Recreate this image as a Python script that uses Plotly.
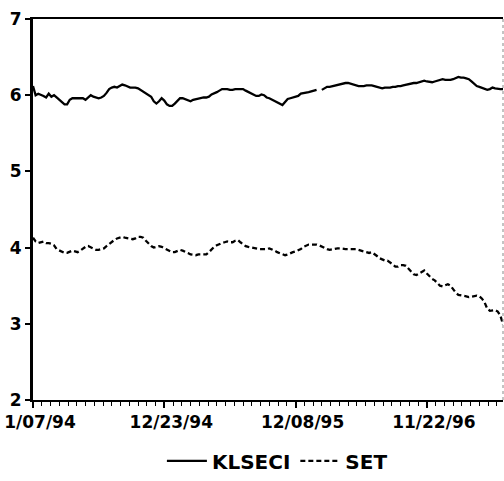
import plotly.graph_objects as go
import pandas as pd

start_date = "1994-01-07"
n_obs = 180

klseci = [
    6.12, 6.00, 6.02, 6.01, 5.99, 5.97, 6.02, 5.98, 6.00, 5.97,
    5.94, 5.90, 5.88, 5.88, 5.94, 5.96, 5.96, 5.96, 5.96, 5.96,
    5.94, 5.97, 6.00, 5.98, 5.97, 5.96, 5.97, 5.99, 6.03, 6.08,
    6.10, 6.11, 6.10, 6.12, 6.14, 6.13, 6.11, 6.10, 6.10, 6.10,
    6.09, 6.07, 6.04, 6.02, 6.00, 5.98, 5.92, 5.89, 5.92, 5.96,
    5.93, 5.88, 5.86, 5.86, 5.89, 5.93, 5.96, 5.96, 5.95, 5.93,
    5.92, 5.94, 5.95, 5.96, 5.97, 5.97, 5.97, 5.98, 6.01, 6.02,
    6.04, 6.06, 6.08, 6.08, 6.08, 6.07, 6.07, 6.08, 6.08, 6.08,
    6.08, 6.06, 6.04, 6.02, 6.00, 5.99, 5.99, 6.01, 6.00, 5.97,
    5.96, 5.94, 5.92, 5.90, 5.89, 5.87, 5.91, 5.95, 5.96, 5.97,
    5.98, 5.99, 6.02, 6.03, 6.04, 6.04, 6.05, 6.06, 6.07, None,
    6.07, 6.09, 6.11, 6.11, 6.12, 6.12, 6.14, 6.15, 6.15, 6.16,
    6.16, 6.15, 6.14, 6.12, 6.12, 6.12, 6.12, 6.13, 6.13, 6.13,
    6.12, 6.11, 6.09, 6.09, 6.10, 6.10, 6.10, 6.11, 6.11, 6.12,
    6.12, 6.13, 6.14, 6.14, 6.15, 6.16, 6.16, 6.17, 6.18, 6.19,
    6.18, 6.17, 6.17, 6.18, 6.19, 6.21, 6.21, 6.20, 6.20, 6.20,
    6.21, 6.22, 6.24, 6.23, 6.23, 6.22, 6.21, 6.18, 6.15, 6.12,
    6.11, 6.10, 6.09, 6.07, 6.08, 6.10, 6.09, 6.08, 6.08, 6.08,
]

set_index = [
    4.13, 4.08, 4.06, 4.07, 4.08, 4.06, 4.06, 4.05, 4.03, 3.98,
    3.96, 3.94, 3.93, 3.93, 3.95, 3.96, 3.95, 3.94, 3.96, 3.99,
    4.01, 4.02, 4.00, 3.99, 3.97, 3.97, 3.98, 3.99, 4.02, 4.05,
    4.08, 4.10, 4.12, 4.13, 4.14, 4.13, 4.12, 4.11, 4.11, 4.12,
    4.14, 4.14, 4.13, 4.09, 4.05, 4.02, 4.00, 4.01, 4.02, 4.01,
    3.99, 3.97, 3.95, 3.94, 3.94, 3.96, 3.97, 3.96, 3.95, 3.93,
    3.91, 3.90, 3.90, 3.91, 3.91, 3.91, 3.91, 3.94, 3.98, 4.01,
    4.03, 4.05, 4.06, 4.07, 4.08, 4.07, 4.07, 4.09, 4.10, 4.07,
    4.04, 4.02, 4.01, 4.00, 3.99, 3.98, 3.98, 3.98, 3.98, 3.98,
    3.99, 3.98, 3.96, 3.94, 3.93, 3.91, 3.90, 3.91, 3.93, 3.94,
    3.95, 3.96, 3.98, 4.01, 4.03, 4.04, 4.04, 4.04, 4.04, 4.03,
    4.01, 3.99, 3.98, 3.97, 3.98, 3.99, 3.99, 3.99, 3.98, 3.98,
    3.98, 3.98, 3.98, 3.98, 3.97, 3.96, 3.95, 3.93, 3.93, 3.94,
    3.92, 3.89, 3.86, 3.84, 3.83, 3.83, 3.81, 3.78, 3.75, 3.75,
    3.77, 3.77, 3.76, 3.72, 3.68, 3.65, 3.64, 3.66, 3.69, 3.70,
    3.66, 3.62, 3.59, 3.57, 3.54, 3.50, 3.49, 3.51, 3.52, 3.50,
    3.45, 3.41, 3.38, 3.37, 3.37, 3.36, 3.35, 3.36, 3.37, 3.37,
    3.36, 3.33, 3.28, 3.20, 3.17, 3.18, 3.18, 3.16, 3.11, 2.99,
]

tick_dates = ["1994-01-07", "1994-12-23", "1995-12-08", "1996-11-22"]
tick_labels = ["1/07/94", "12/23/94", "12/08/95", "11/22/96"]
y_ticks = [2, 3, 4, 5, 6, 7]

dates = pd.date_range(start_date, periods=n_obs, freq="7D")

font_family = "DejaVu Sans"

fig = go.Figure()
fig.add_trace(go.Scatter(
    x=dates, y=klseci, mode="lines", name="KLSECI",
    line=dict(color="black", width=2.3), connectgaps=False,
))
fig.add_trace(go.Scatter(
    x=dates, y=set_index, mode="lines", name="SET",
    line=dict(color="black", width=2.3, dash="5px,3px"),
))

minor_ms = 50 / 15 * 7 * 86400000

fig.update_layout(
    width=504, height=481,
    margin=dict(l=33, r=1, t=19, b=78),
    paper_bgcolor="white", plot_bgcolor="white",
    font=dict(family=font_family, color="black", size=17, weight="bold"),
    showlegend=True,
    legend=dict(
        orientation="h", x=0.52, xanchor="center", y=-0.16, yanchor="middle",
        font=dict(family=font_family, size=20, color="black", weight="bold"),
        itemwidth=40, bgcolor="rgba(0,0,0,0)",
    ),
)

fig.update_xaxes(
    range=[dates[0], dates[-1]],
    tickmode="array", tickvals=tick_dates, ticktext=tick_labels,
    ticks="outside", ticklen=6, tickwidth=1.5, tickcolor="black",
    ticklabelshift=7,
    tickfont=dict(family=font_family, size=17, color="black", weight="bold"),
    minor=dict(tickmode="linear", tick0=start_date, dtick=minor_ms,
               ticks="outside", ticklen=4, tickwidth=1.2, tickcolor="black"),
    showline=True, linewidth=2, linecolor="black", mirror=True,
    showgrid=False, zeroline=False,
)
fig.update_yaxes(
    range=[2, 7], tickmode="array", tickvals=y_ticks,
    ticks="outside", ticklen=5, tickwidth=1.5, tickcolor="black",
    tickfont=dict(family=font_family, size=17, color="black", weight="bold"),
    showline=True, linewidth=3, linecolor="black", mirror=False,
    showgrid=False, zeroline=False,
)
fig.add_shape(type="line", xref="paper", yref="paper", x0=1, x1=1, y0=0, y1=1,
              line=dict(color="#888888", width=1, dash="dot"))

fig.write_html("out.html")
